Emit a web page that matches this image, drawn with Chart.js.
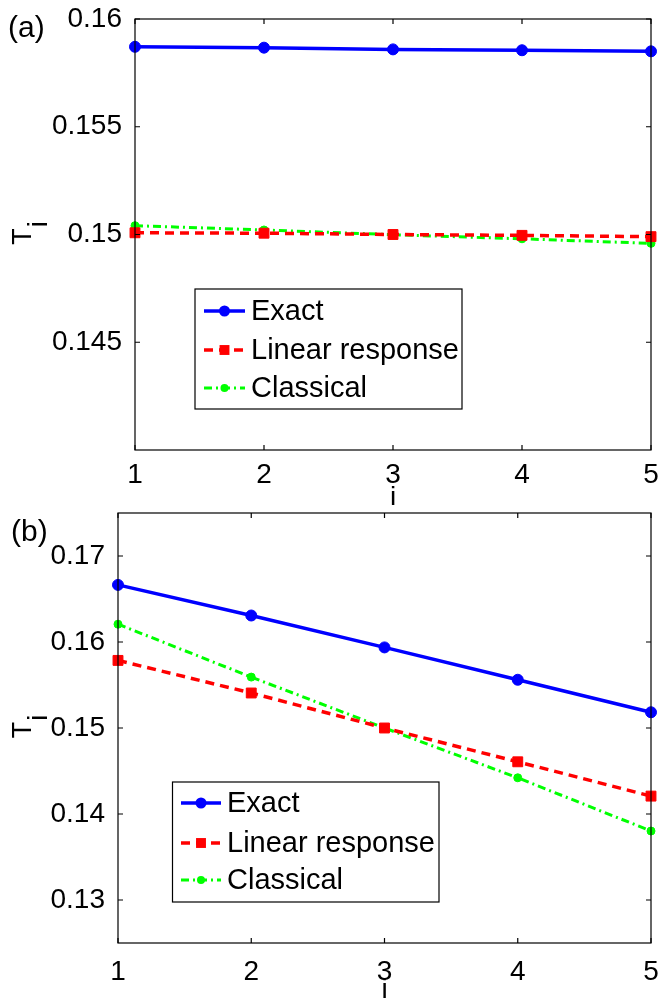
<!DOCTYPE html>
<html><head><meta charset="utf-8">
<script src="https://cdn.jsdelivr.net/npm/chart.js@4"></script>
<style>
html,body{margin:0;padding:0;background:#fff;width:660px;height:1002px;overflow:hidden}
canvas{position:absolute;left:0}
#ca{top:0}
#cb{top:505px}
</style></head><body>
<canvas id="ca" width="660" height="505"></canvas>
<canvas id="cb" width="660" height="497"></canvas>
<script>
// ---- data ----
const sites = [1, 2, 3, 4, 5];
const seriesNames = ['Exact', 'Linear response', 'Classical'];
const exactA = [0.15871, 0.15867, 0.15859, 0.15855, 0.15850];
const linearA = [0.15008, 0.15006, 0.15000, 0.14996, 0.14990];
const classicalA = [0.15041, 0.15021, 0.14999, 0.14980, 0.14959];
const exactB = [0.16664, 0.16308, 0.15937, 0.15561, 0.15183];
const linearB = [0.15786, 0.15407, 0.15000, 0.14607, 0.14208];
const classicalB = [0.16207, 0.15592, 0.15000, 0.14421, 0.13802];
const xTicks = [1, 2, 3, 4, 5];
const yTicksA = [0.145, 0.15, 0.155, 0.16];
const yTicksB = [0.13, 0.14, 0.15, 0.16, 0.17];
const yRangeA = [0.14, 0.16];
const yRangeB = [0.125, 0.175];
const panelLabels = ['(a)', '(b)'];
const xTitle = 'i';
const yTitleMain = 'T';
const yTitleSub = 'i';

const FAMILY = "'Liberation Sans', Arial, Helvetica, sans-serif";
const styles = [
  {color: '#0000ff', dash: [], width: 3.5, pointStyle: 'circle', radius: 5.5},
  {color: '#ff0000', dash: [9, 6], width: 3.5, pointStyle: 'rect', radius: 7},
  {color: '#00ff00', dash: [8, 4, 2, 4], width: 3, pointStyle: 'circle', radius: 4}
];

const framePlugin = {
  id: 'frame',
  afterDatasetsDraw(chart) {
    const {ctx, chartArea: a, scales} = chart;
    ctx.save();
    ctx.strokeStyle = '#000';
    ctx.lineWidth = 1.2;
    ctx.setLineDash([]);
    ctx.strokeRect(a.left, a.top, a.right - a.left, a.bottom - a.top);
    const L = 5;
    ctx.beginPath();
    scales.x.ticks.forEach(t => {
      const px = scales.x.getPixelForValue(t.value);
      ctx.moveTo(px, a.bottom); ctx.lineTo(px, a.bottom - L);
      ctx.moveTo(px, a.top); ctx.lineTo(px, a.top + L);
    });
    scales.y.ticks.forEach(t => {
      const py = scales.y.getPixelForValue(t.value);
      ctx.moveTo(a.left, py); ctx.lineTo(a.left + L, py);
      ctx.moveTo(a.right, py); ctx.lineTo(a.right - L, py);
    });
    ctx.stroke();
    ctx.restore();
  }
};

function drawMarker(ctx, st, x, y) {
  ctx.save();
  ctx.setLineDash([]);
  ctx.fillStyle = st.color;
  ctx.strokeStyle = st.color;
  ctx.beginPath();
  if (st.pointStyle === 'rect') {
    const s = st.radius * Math.SQRT1_2;
    ctx.rect(x - s, y - s, 2 * s, 2 * s);
  } else {
    ctx.arc(x, y, st.radius, 0, Math.PI * 2);
  }
  ctx.fill();
  ctx.restore();
}

const annoPlugin = {
  id: 'anno',
  afterDraw(chart, args, o) {
    const {ctx, chartArea: a} = chart;
    ctx.save();
    // legend box
    const lg = o.legend;
    ctx.fillStyle = '#fff';
    ctx.fillRect(lg.x0, lg.y0, lg.x1 - lg.x0, lg.y1 - lg.y0);
    ctx.strokeStyle = '#000';
    ctx.lineWidth = 1.2;
    ctx.strokeRect(lg.x0, lg.y0, lg.x1 - lg.x0, lg.y1 - lg.y0);
    chart.data.datasets.forEach((d, i) => {
      const st = styles[i];
      const y = lg.rows[i];
      ctx.save();
      ctx.strokeStyle = st.color;
      ctx.lineWidth = st.width;
      ctx.setLineDash(st.dash);
      ctx.beginPath();
      ctx.moveTo(lg.lx0, y); ctx.lineTo(lg.lx1, y);
      ctx.stroke();
      ctx.restore();
      drawMarker(ctx, st, (lg.lx0 + lg.lx1) / 2, y);
      ctx.fillStyle = '#000';
      ctx.font = '29px ' + FAMILY;
      ctx.textAlign = 'left';
      ctx.textBaseline = 'middle';
      ctx.fillText(d.label, lg.tx, y + 1);
    });
    // panel label
    ctx.fillStyle = '#000';
    ctx.font = '30px ' + FAMILY;
    ctx.textAlign = 'left';
    ctx.textBaseline = 'alphabetic';
    ctx.fillText(o.panel, o.panelX, o.panelY);
    // x title
    ctx.font = '28px ' + FAMILY;
    ctx.textAlign = 'center';
    ctx.textBaseline = 'middle';
    ctx.fillText(xTitle, (a.left + a.right) / 2, o.xTitleY);
    // y title T_i rotated
    const yc = (a.top + a.bottom) / 2;
    ctx.translate(0, yc);
    ctx.rotate(-Math.PI / 2);
    ctx.font = '27px ' + FAMILY;
    ctx.textAlign = 'left';
    ctx.textBaseline = 'alphabetic';
    const wT = ctx.measureText(yTitleMain).width;
    ctx.fillText(yTitleMain, -wT / 2 - 2, 31);
    ctx.fillText(yTitleSub, wT / 2 - 1, 47);
    ctx.restore();
  }
};

function makeChart(id, c) {
  const font = {family: FAMILY, size: 28};
  const series = [c.exact, c.linear, c.classical];
  const datasets = series.map((arr, i) => {
    const st = styles[i];
    return {
      label: seriesNames[i],
      data: sites.map((x, k) => ({x: x, y: arr[k]})),
      borderColor: st.color,
      backgroundColor: st.color,
      borderWidth: st.width,
      borderDash: st.dash,
      pointStyle: st.pointStyle,
      pointRadius: st.radius,
      pointBackgroundColor: st.color,
      pointBorderColor: st.color,
      pointBorderWidth: 1,
      tension: 0,
      fill: false,
      clip: false
    };
  });
  const noPad = s => { s.paddingLeft = 0; s.paddingRight = 0; s.paddingTop = 0; s.paddingBottom = 0; };
  return new Chart(document.getElementById(id), {
    type: 'line',
    data: {datasets},
    options: {
      responsive: false,
      animation: false,
      devicePixelRatio: 1,
      layout: {padding: {top: c.top, right: 9, left: 0, bottom: 0}},
      plugins: {
        legend: {display: false},
        tooltip: {enabled: false},
        anno: c.anno
      },
      scales: {
        x: {
          type: 'linear', min: xTicks[0], max: xTicks[xTicks.length - 1],
          grid: {display: false}, border: {display: false},
          afterBuildTicks: s => { s.ticks = xTicks.map(v => ({value: v})); },
          afterFit: s => { s.height = c.xh; noPad(s); },
          ticks: {font, color: '#000', padding: c.xpad, maxRotation: 0, autoSkip: false,
                  callback: v => String(v)}
        },
        y: {
          type: 'linear', min: c.yRange[0], max: c.yRange[1],
          grid: {display: false}, border: {display: false},
          afterBuildTicks: s => { s.ticks = c.yTicks.map(v => ({value: v})); },
          afterFit: s => { s.width = c.yw; noPad(s); },
          ticks: {font, color: '#000', padding: 5, autoSkip: false,
                  callback: v => String(Number(v.toFixed(4)))}
        }
      }
    },
    plugins: [framePlugin, annoPlugin]
  });
}

makeChart('ca', {
  exact: exactA, linear: linearA, classical: classicalA,
  yTicks: yTicksA, yRange: yRangeA,
  top: 19, xh: 55, yw: 135, xpad: 0,
  anno: {
    panel: panelLabels[0], panelX: 8, panelY: 37, xTitleY: 498,
    legend: {x0: 195, y0: 289, x1: 462, y1: 409, rows: [311, 350, 388], lx0: 204, lx1: 245, tx: 251}
  }
});
makeChart('cb', {
  exact: exactB, linear: linearB, classical: classicalB,
  yTicks: yTicksB, yRange: yRangeB,
  top: 8, xh: 59, yw: 118, xpad: 4,
  anno: {
    panel: panelLabels[1], panelX: 11, panelY: 36, xTitleY: 485,
    legend: {x0: 172.5, y0: 277, x1: 439, y1: 397, rows: [298, 338, 375], lx0: 181, lx1: 221, tx: 227}
  }
});
</script>
</body></html>
